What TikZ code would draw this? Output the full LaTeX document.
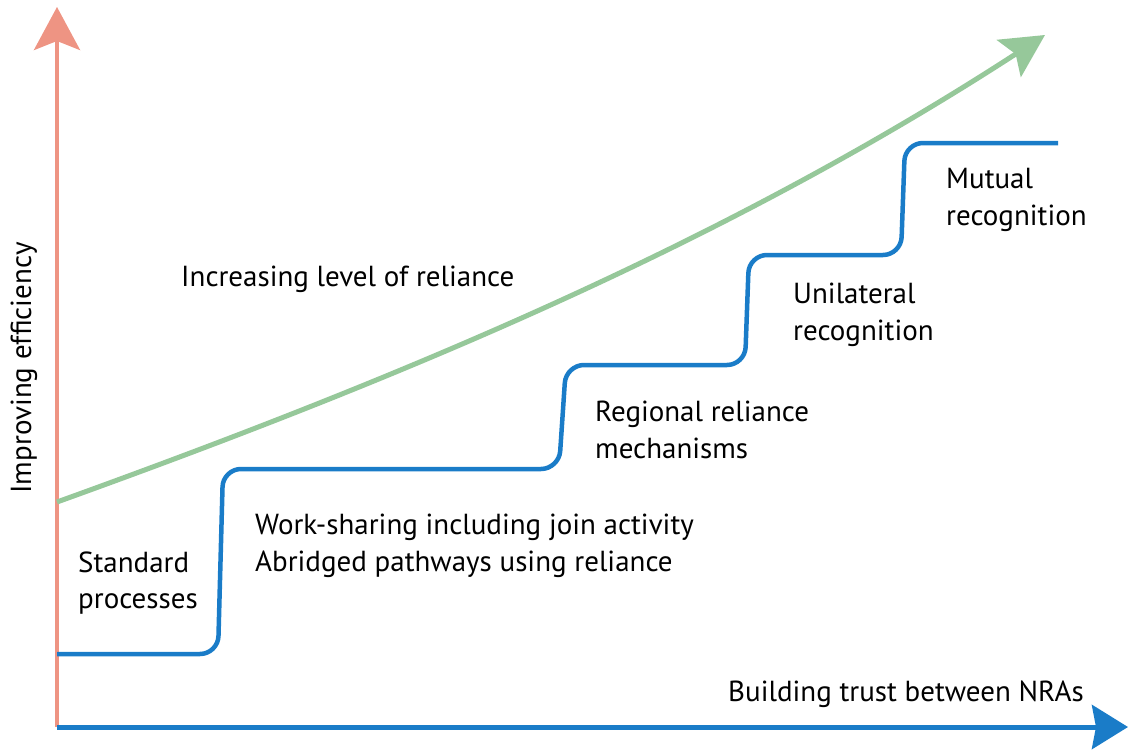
\documentclass[tikz,border=0pt]{standalone}
\usepackage{fontspec}
\setmainfont{PT Sans}
\usetikzlibrary{arrows.meta}
\definecolor{axred}{HTML}{EE9483}
\definecolor{axblue}{HTML}{1A7CC8}
\definecolor{relgreen}{HTML}{96C89A}
\begin{document}
\begin{tikzpicture}[x=1pt,y=-1pt,
  lbl/.style={font=\fontsize{29}{36.5}\selectfont, inner sep=0pt, align=left, anchor=west, text=black},
  stepline/.style={draw=axblue, line width=4.5pt, rounded corners=18pt},
]
\useasboundingbox (0,0) rectangle (1130,750);
% axes
\coordinate (O) at (57,727);
\coordinate (Ytop) at (57,7);
\coordinate (Xend) at (1128,727);
\draw[axred, line width=4pt, -{Stealth[length=43pt,width=46pt,inset=9pt]}] (O) -- (Ytop);
\draw[axblue, line width=5pt, -{Stealth[length=36pt,width=44pt,inset=4pt]}] (O) -- (Xend);
% green curve
\coordinate (G0) at (57,502);
\coordinate (G1) at (1045,35);
\draw[relgreen, line width=5pt, -{Stealth[length=43pt,width=44pt,inset=8pt]}]
  (G0) .. controls (387,383) and (715,249) .. (G1);
% steps
\coordinate (S0) at (57,654);
\coordinate (S5) at (1058,143);
\draw[stepline] (S0) -- (218,654) -- (223,469) -- (559,469) -- (566,365) -- (745,365) -- (749,255) -- (901,255) -- (905,143) -- (S5);
% labels
\node[lbl] (inc) at (181,279) {Increasing level of reliance};
\node[lbl] (mut) at (946,200) {Mutual\\recognition};
\node[lbl] (uni) at (793,315) {Unilateral\\recognition};
\node[lbl] (reg) at (595,430) {Regional reliance\\mechanisms};
\node[lbl] (work) at (255,546) {Work-sharing including join activity\\Abridged pathways using reliance};
\node[lbl] (std) at (78,583) {Standard\\processes};
\node[lbl] (xlab) at (728,694) {Building trust between NRAs};
\node[lbl, anchor=center, rotate=90] (ylab) at (24,368) {Improving efficiency};
\end{tikzpicture}
\end{document}
